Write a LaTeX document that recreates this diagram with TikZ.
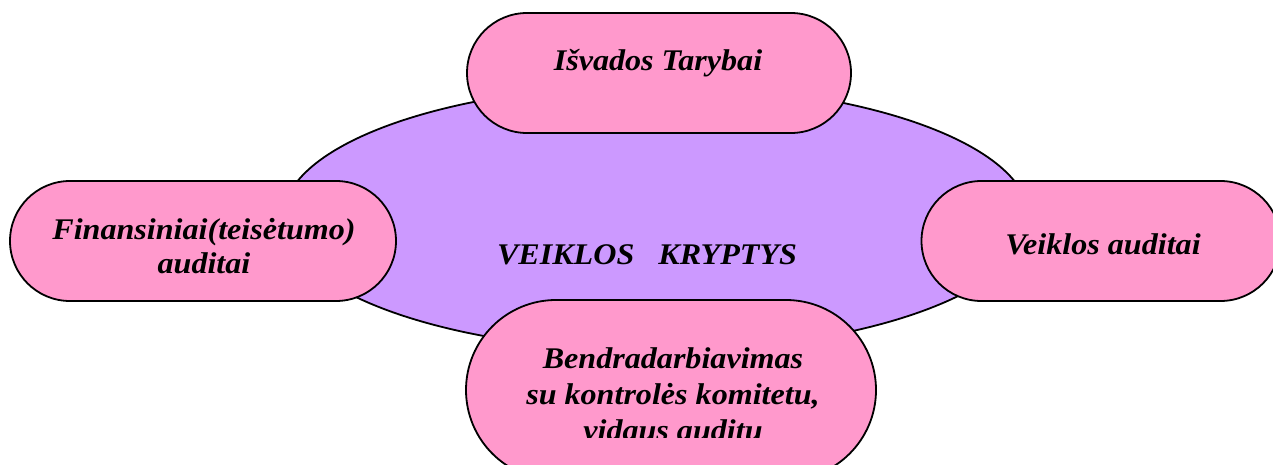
\documentclass[tikz,border=0pt]{standalone}
\usepackage{fontspec}
\setmainfont{Liberation Serif}
\newfontfamily\lblfont[FakeStretch=1.07]{Liberation Serif}
\usetikzlibrary{shapes.misc}
\definecolor{pillpink}{HTML}{FF99CC}
\definecolor{hublilac}{HTML}{CC99FF}
\begin{document}
\begin{tikzpicture}[x=1pt,y=-1pt,
    pill/.style={rounded rectangle,draw=black,line width=1.8pt,fill=pillpink,
      inner sep=0pt},
    lbl/.style={font=\lblfont\fontsize{30}{34}\selectfont\bfseries\itshape,
      align=center,inner sep=0pt}]
  \useasboundingbox (0,0) rectangle (1273,465);
  \clip (0,0) rectangle (1273,465);
  \draw[line width=1.8pt,fill=hublilac] (656,218) ellipse [x radius=373,y radius=133];
  \node[lbl] (hub) at (647,255) {VEIKLOS\ \ \ KRYPTYS};
  % directions
  \node[pill,minimum width=384pt,minimum height=120pt] (isv) at (659,73) {};
  \node[pill,minimum width=386pt,minimum height=120pt] (fin) at (203,241) {};
  \node[pill,minimum width=359pt,minimum height=120pt] (veik) at (1101,241) {};
  \node[pill,minimum width=410pt,minimum height=180pt] (bendr) at (671,390) {};
  \node[lbl] (isvt) at (658,63) {Išvados Tarybai};
  \node[lbl] (fint) at (204,246) {Finansiniai(teisėtumo)\\auditai};
  \node[lbl] (veikt) at (1103,244) {Veiklos auditai};
  \begin{scope}
    \clip (466,300) rectangle (876,437);
    \node[lbl,font=\lblfont\fontsize{30}{36}\selectfont\bfseries\itshape] (bendrt)
      at (673,394) {Bendradarbiavimas\\su kontrolės komitetu,\\vidaus auditu};
  \end{scope}
\end{tikzpicture}
\end{document}
